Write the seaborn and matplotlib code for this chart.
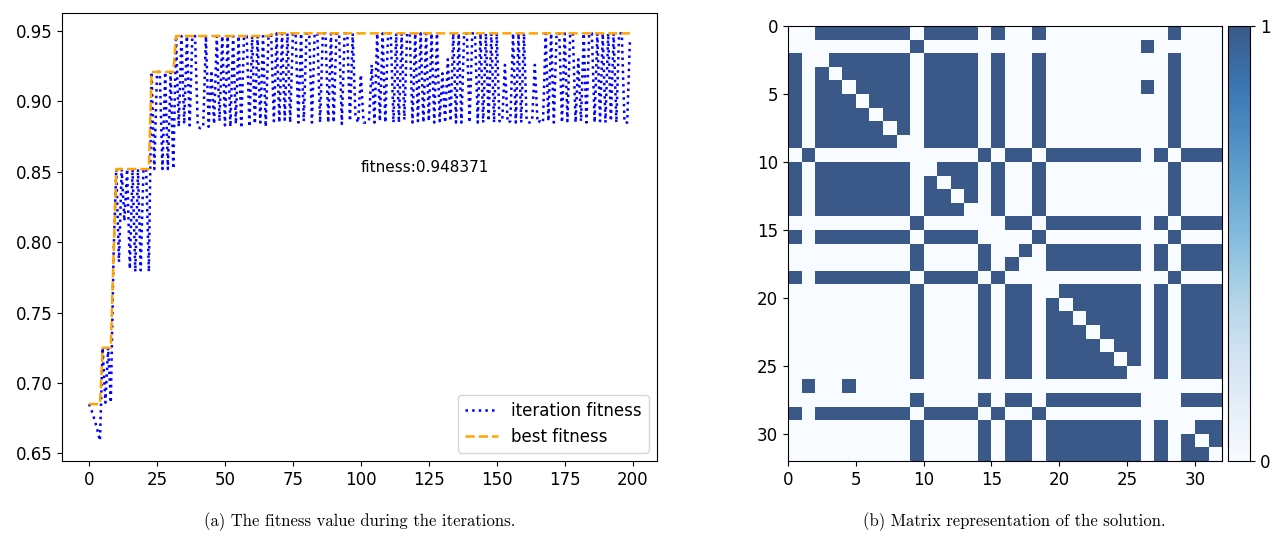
import numpy as np
import matplotlib
matplotlib.use("Agg")
import matplotlib.pyplot as plt
import seaborn as sns

# ---------------- data ----------------
iteration_fitness = [
    0.685, 0.680, 0.674, 0.667, 0.659, 0.725, 0.686, 0.725, 0.686, 0.790,
    0.852, 0.786, 0.852, 0.815, 0.852, 0.781, 0.852, 0.779, 0.852, 0.780,
    0.852, 0.852, 0.779, 0.921, 0.852, 0.921, 0.921, 0.852, 0.921, 0.852,
    0.921, 0.852, 0.9465, 0.882, 0.9465, 0.884, 0.9465, 0.883, 0.9465, 0.9465,
    0.882, 0.881, 0.882, 0.9465, 0.882, 0.922, 0.884, 0.9465, 0.886, 0.9465,
    0.883, 0.9465, 0.882, 0.9465, 0.884, 0.9465, 0.881, 0.9465, 0.9465, 0.882,
    0.9465, 0.884, 0.9465, 0.885, 0.9465, 0.882, 0.9465, 0.9475, 0.886, 0.9484,
    0.885, 0.9484, 0.887, 0.9484, 0.885, 0.9484, 0.9484, 0.885, 0.9484, 0.886,
    0.9484, 0.9484, 0.885, 0.9484, 0.9484, 0.885, 0.9484, 0.9484, 0.885, 0.9484,
    0.885, 0.9484, 0.9484, 0.884, 0.9484, 0.9484, 0.886, 0.9484, 0.890, 0.885,
    0.919, 0.885, 0.885, 0.886, 0.926, 0.885, 0.9484, 0.886, 0.9484, 0.885,
    0.9484, 0.9484, 0.885, 0.9484, 0.885, 0.9484, 0.887, 0.9484, 0.9484, 0.885,
    0.9484, 0.886, 0.9484, 0.885, 0.9484, 0.886, 0.9484, 0.885, 0.9484, 0.886,
    0.920, 0.885, 0.930, 0.886, 0.9484, 0.885, 0.9484, 0.885, 0.9484, 0.9484,
    0.885, 0.9484, 0.9484, 0.885, 0.9484, 0.885, 0.9484, 0.886, 0.9484, 0.885,
    0.9484, 0.886, 0.886, 0.926, 0.885, 0.886, 0.9484, 0.885, 0.9484, 0.885,
    0.9484, 0.886, 0.885, 0.886, 0.926, 0.885, 0.886, 0.885, 0.9484, 0.886,
    0.9484, 0.885, 0.9484, 0.9484, 0.885, 0.9484, 0.886, 0.9484, 0.9484, 0.885,
    0.930, 0.886, 0.9484, 0.885, 0.9484, 0.9484, 0.885, 0.9484, 0.886, 0.9484,
    0.885, 0.9484, 0.886, 0.9484, 0.885, 0.9484, 0.9484, 0.885, 0.885, 0.944,
]
final_fitness_label = "fitness:0.948371"
series_labels = ["iteration fitness", "best fitness"]
fit_xticks = [0, 25, 50, 75, 100, 125, 150, 175, 200]
fit_yticks = [0.65, 0.70, 0.75, 0.80, 0.85, 0.90, 0.95]

n_nodes = 32
group_a = [0, 2, 3, 4, 5, 6, 7, 8, 10, 11, 12, 13, 15, 18, 28]
group_c = [9, 14, 16, 17, 19, 20, 21, 22, 23, 24, 25, 27, 29, 30, 31]
extra_edges = [(1, 9), (1, 26), (4, 26)]
mat_ticks = [0, 5, 10, 15, 20, 25, 30]
cbar_ticks = [0, 1]

caption_a = "(a) The fitness value during the iterations."
caption_b = "(b) Matrix representation of the solution."

# ---------------- derived ----------------
iters = np.arange(len(iteration_fitness))
best_fitness = np.maximum.accumulate(np.array(iteration_fitness))

mat = np.zeros((n_nodes, n_nodes))
for grp in (group_a, group_c):
    for i in grp:
        for j in grp:
            if i != j:
                mat[i, j] = 1
for i, j in extra_edges:
    mat[i, j] = 1
    mat[j, i] = 1

# ---------------- figure ----------------
fig = plt.figure(figsize=(12.71, 5.37), dpi=100)
ax1 = fig.add_axes([0.0488, 0.1415, 0.4681, 0.8343])
ax2 = fig.add_axes([0.6200, 0.1415, 0.3415, 0.8100])
cax = fig.add_axes([0.9665, 0.1415, 0.0173, 0.8100])

sns.lineplot(x=iters, y=iteration_fitness, ax=ax1, color="blue",
             linestyle=":", linewidth=1.8, label=series_labels[0])
sns.lineplot(x=iters, y=best_fitness, ax=ax1, color="orange",
             linestyle="--", linewidth=1.8, label=series_labels[1])
ax1.set_xticks(fit_xticks)
ax1.set_yticks(fit_yticks)
ax1.set_yticklabels([f"{v:.2f}" for v in fit_yticks])
ax1.tick_params(labelsize=12)
ax1.text(100, 0.85, final_fitness_label, fontsize=11)
ax1.legend(loc="lower right", fontsize=12)
for s in ax1.spines.values():
    s.set_visible(True)
    s.set_color("black")

sns.heatmap(mat, ax=ax2, cmap="Blues", vmin=0, vmax=1, alpha=0.8,
            cbar_ax=cax, xticklabels=False, yticklabels=False)
ax2.set_xticks(mat_ticks)
ax2.set_xticklabels([str(t) for t in mat_ticks], rotation=0)
ax2.set_yticks(mat_ticks)
ax2.set_yticklabels([str(t) for t in mat_ticks], rotation=0)
ax2.tick_params(labelsize=12, length=3.5, width=0.8)
for s in ax2.spines.values():
    s.set_visible(True)
    s.set_color("black")
    s.set_linewidth(0.8)
cb = ax2.collections[0].colorbar
cb.set_ticks(cbar_ticks)
cb.ax.tick_params(labelsize=12)
cb.outline.set_visible(True)
cb.outline.set_linewidth(0.8)

fig.text(360 / 1271, 15 / 537, caption_a, ha="center", va="center",
         fontsize=12, family="cmr10")
fig.text(1014 / 1271, 15 / 537, caption_b, ha="center", va="center",
         fontsize=12, family="cmr10")

fig.savefig("out.png", dpi=100)
